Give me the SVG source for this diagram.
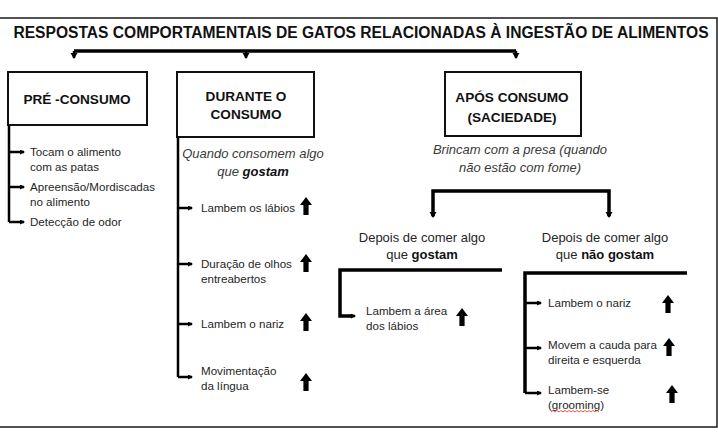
<svg xmlns="http://www.w3.org/2000/svg" width="718" height="446" viewBox="0 0 718 446">
<defs>
<style>
.frame{fill:none;stroke:#1a1a1a;stroke-width:1.5}
.box{fill:#fff;stroke:#111;stroke-width:2}
.ln{fill:none;stroke:#000;stroke-width:2.5}
.thick{fill:none;stroke:#000;stroke-width:3.5}
.title{font-family:"Liberation Sans",Arial,sans-serif;font-weight:bold;font-size:15.6px;fill:#111;text-anchor:middle}
.lbl{font-family:"Liberation Sans",Arial,sans-serif;font-weight:bold;font-size:13.6px;fill:#111;text-anchor:middle}
.it{font-family:"Liberation Sans",Arial,sans-serif;font-style:italic;font-size:13px;fill:#3a3a3a;text-anchor:middle}
.sub{font-family:"Liberation Sans",Arial,sans-serif;font-size:13px;fill:#262626;text-anchor:middle}
.txt{font-family:"Liberation Sans",Arial,sans-serif;font-size:11.6px;fill:#262626}
.b{font-weight:bold;fill:#111}
</style>
<marker id="ah" markerUnits="userSpaceOnUse" markerWidth="8" markerHeight="8" refX="5" refY="3.5" orient="auto">
<path d="M0,0 L6,3.5 L0,7 z" fill="#000"/>
</marker>
<marker id="ahs" markerUnits="userSpaceOnUse" markerWidth="6" markerHeight="6" refX="4" refY="2.5" orient="auto">
<path d="M0,0 L5,2.5 L0,5 z" fill="#000"/>
</marker>
<path id="up" d="M0,0 L6,8 L2.6,8 L2.6,18 L-2.6,18 L-2.6,8 L-6,8 Z" fill="#000"/>
</defs>
<rect width="718" height="446" fill="#fff"/>
<path class="frame" d="M0,18 H717 V427 H0"/>

<g id="title">
<text class="title" x="361" y="38">RESPOSTAS COMPORTAMENTAIS DE GATOS RELACIONADAS À INGESTÃO DE ALIMENTOS</text>
</g>

<g id="connectors">
<path class="thick" d="M74,51 H516"/>
<path class="ln" d="M74,51 V58" marker-end="url(#ah)"/>
<path class="ln" d="M246,51 V58" marker-end="url(#ah)"/>
<path class="ln" d="M516,51 V58" marker-end="url(#ah)"/>
<path class="ln" d="M9,125 V222"/>
<path class="ln" d="M9,152 H24" marker-end="url(#ahs)"/>
<path class="ln" d="M9,187 H24" marker-end="url(#ahs)"/>
<path class="ln" d="M9,222 H24" marker-end="url(#ahs)"/>
<path class="ln" d="M178,137 V377"/>
<path class="ln" d="M178,208 H192" marker-end="url(#ahs)"/>
<path class="ln" d="M178,264 H192" marker-end="url(#ahs)"/>
<path class="ln" d="M178,324 H192" marker-end="url(#ahs)"/>
<path class="ln" d="M178,377 H192" marker-end="url(#ahs)"/>
<path class="thick" d="M433,216 V191 H609 V216"/>
<path class="ln" d="M433,214 V217" marker-end="url(#ah)"/>
<path class="ln" d="M609,214 V217" marker-end="url(#ah)"/>
<path class="thick" d="M502,270 H340 V316 H352"/>
<path class="ln" d="M350,316 H355" marker-end="url(#ahs)"/>
<path class="thick" d="M687,273 H525 V393"/>
<path class="ln" d="M525,303 H541" marker-end="url(#ahs)"/>
<path class="ln" d="M525,348 H541" marker-end="url(#ahs)"/>
<path class="ln" d="M525,393 H541" marker-end="url(#ahs)"/>
</g>

<g id="node-pre">
<rect class="box" x="8" y="72" width="139" height="53"/>
<text class="lbl" x="77" y="104" font-size="13.3">PRÉ -CONSUMO</text>
<text class="txt" x="30" y="156">Tocam o alimento</text>
<text class="txt" x="30" y="171">com as patas</text>
<text class="txt" x="30" y="191">Apreensão/Mordiscadas</text>
<text class="txt" x="30" y="206">no alimento</text>
<text class="txt" x="30" y="226">Detecção de odor</text>
</g>

<g id="node-durante">
<rect class="box" x="177" y="72" width="137" height="65"/>
<text class="lbl" x="246" y="101">DURANTE O</text>
<text class="lbl" x="246" y="119">CONSUMO</text>
<text class="it" x="253" y="158">Quando consomem algo</text>
<text class="it" x="253" y="176">que <tspan font-weight="bold" fill="#111">gostam</tspan></text>
<text class="txt" x="201" y="212">Lambem os lábios</text>
<text class="txt" x="201" y="268">Duração de olhos</text>
<text class="txt" x="201" y="283">entreabertos</text>
<text class="txt" x="201" y="328">Lambem o nariz</text>
<text class="txt" x="201" y="375">Movimentação</text>
<text class="txt" x="201" y="390">da língua</text>
<use href="#up" x="306" y="197"/>
<use href="#up" x="306" y="254"/>
<use href="#up" x="306" y="313"/>
<use href="#up" x="306" y="373"/>
</g>

<g id="node-apos">
<rect class="box" x="445" y="72" width="136" height="64"/>
<text class="lbl" x="512" y="102">APÓS CONSUMO</text>
<text class="lbl" x="512" y="122">(SACIEDADE)</text>
<text class="it" x="520" y="154">Brincam com a presa (quando</text>
<text class="it" x="520" y="172">não estão com fome)</text>
</g>

<g id="node-gostam">
<text class="sub" x="422" y="242">Depois de comer algo</text>
<text class="sub" x="422" y="259">que <tspan class="b">gostam</tspan></text>
<text class="txt" x="366" y="315">Lambem a área</text>
<text class="txt" x="366" y="330">dos lábios</text>
<use href="#up" x="462" y="308"/>
</g>

<g id="node-naogostam">
<text class="sub" x="605" y="242">Depois de comer algo</text>
<text class="sub" x="605" y="259">que <tspan class="b">não gostam</tspan></text>
<text class="txt" x="548" y="307">Lambem o nariz</text>
<text class="txt" x="548" y="349">Movem a cauda para</text>
<text class="txt" x="548" y="364">direita e esquerda</text>
<text class="txt" x="548" y="394">Lambem-se</text>
<text class="txt" x="548" y="409">(grooming)</text>
<path d="M551,412 l2,-1.5 l2,1.5 l2,-1.5 l2,1.5 l2,-1.5 l2,1.5 l2,-1.5 l2,1.5 l2,-1.5 l2,1.5 l2,-1.5 l2,1.5 l2,-1.5 l2,1.5 l2,-1.5 l2,1.5 l2,-1.5 l2,1.5 l2,-1.5 l2,1.5 l2,-1.5 l2,1.5 l2,-1.5 l2,1.5" fill="none" stroke="#e03030" stroke-width="0.8"/>
<use href="#up" x="668" y="295"/>
<use href="#up" x="669" y="338"/>
<use href="#up" x="672" y="385"/>
</g>
</svg>
